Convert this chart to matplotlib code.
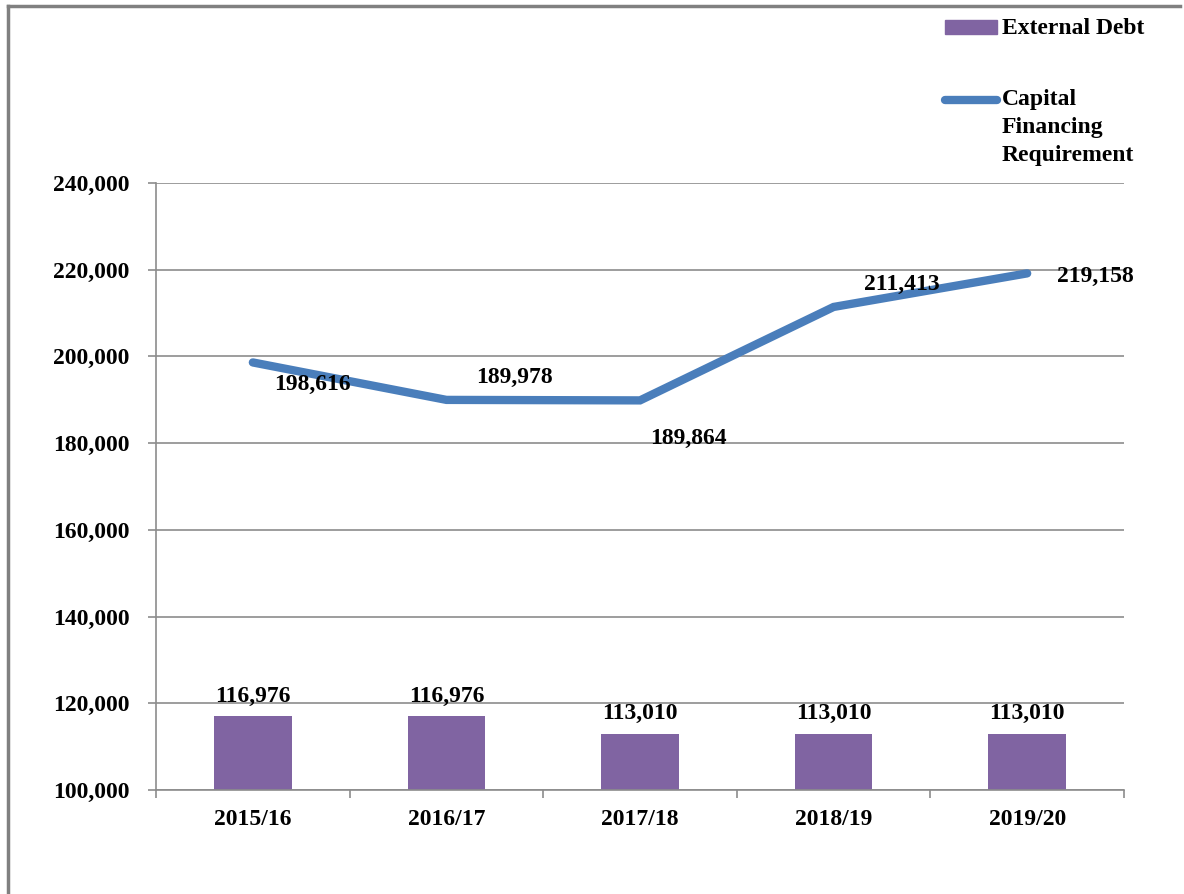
import numpy as np
import matplotlib.pyplot as plt
from matplotlib.lines import Line2D
from matplotlib.patches import Rectangle

# Data
years = ["2015/16", "2016/17", "2017/18", "2018/19", "2019/20"]
external_debt = [116976, 116976, 113010, 113010, 113010]
cfr = [198616, 189978, 189864, 211413, 219158]
# label offsets (pixels) for the line data labels
cfr_offsets = [(60, -22), (68, 22), (48, -38), (68, 22), (68, -3)]

bar_color = '#8064A2'
line_color = '#4A7EBB'
grid_color = '#8C8C8C'
fs = 17

plt.rcParams['font.family'] = ['Liberation Serif', 'DejaVu Serif']
plt.rcParams['font.weight'] = 'bold'

fig = plt.figure(figsize=(11.84, 8.94), dpi=100)
ax = fig.add_axes([0.1318, 0.1163, 0.8175, 0.679])

x = np.arange(len(years))
ax.bar(x, external_debt, width=0.4, color=bar_color, zorder=2)
ax.plot(x, cfr, color=line_color, linewidth=6, solid_capstyle='round',
        solid_joinstyle='miter', zorder=3)

for xi, v in zip(x, external_debt):
    ax.annotate(f"{v:,}", (xi, v), xytext=(0, 7), textcoords='offset points',
                ha='center', va='bottom', fontsize=fs, fontweight='bold')
for xi, v, off in zip(x, cfr, cfr_offsets):
    ax.annotate(f"{v:,}", (xi, v), xytext=(off[0] * 0.72, off[1] * 0.72),
                textcoords='offset points', ha='center', va='center',
                fontsize=fs, fontweight='bold', zorder=4)

ax.set_xlim(-0.5, len(years) - 0.5)
ax.set_ylim(100000, 240000)
ax.set_yticks(np.arange(100000, 240001, 20000))
ax.set_yticklabels([f"{t:,}" for t in range(100000, 240001, 20000)])
ax.yaxis.grid(True, color=grid_color, linewidth=1.2)
ax.set_axisbelow(True)

ax.set_xticks(np.arange(-0.5, len(years), 1.0))
ax.set_xticklabels([])
ax.set_xticks(x, minor=True)
ax.set_xticklabels(years, minor=True)
ax.tick_params(axis='x', which='major', length=6, color=grid_color, width=1.2)
ax.tick_params(axis='x', which='minor', length=0, pad=14, labelsize=fs)
ax.tick_params(axis='y', length=6, color=grid_color, width=1.2, labelsize=fs, pad=13)

for s in ['top', 'right']:
    ax.spines[s].set_visible(False)
for s in ['left', 'bottom']:
    ax.spines[s].set_color(grid_color)
    ax.spines[s].set_linewidth(1.2)

# legend drawn by hand to follow the original layout
W, H = 1184, 894
fig.add_artist(Rectangle((945 / W, 1 - 34 / H), 52 / W, 14 / H,
                         transform=fig.transFigure, color=bar_color))
fig.text(1002 / W, 1 - 28 / H, "External Debt", fontsize=fs,
         fontweight='bold', va='center', ha='left')
fig.add_artist(Line2D([945 / W, 997 / W], [1 - 100 / H, 1 - 100 / H],
                      transform=fig.transFigure, color=line_color,
                      linewidth=6, solid_capstyle='round'))
for i, word in enumerate(["Capital", "Financing", "Requirement"]):
    fig.text(1002 / W, 1 - (100 + 27.5 * i) / H, word, fontsize=fs,
             fontweight='bold', va='center', ha='left')

# outer frame (left and top edges)
fig.add_artist(Line2D([8 / W, 8 / W], [0, 1 - 6 / H], transform=fig.transFigure,
                      color='#808080', linewidth=2.5))
fig.add_artist(Line2D([8 / W, 1180 / W], [1 - 6 / H, 1 - 6 / H],
                      transform=fig.transFigure, color='#808080', linewidth=2.5))

fig.savefig("out.png", dpi=100)
